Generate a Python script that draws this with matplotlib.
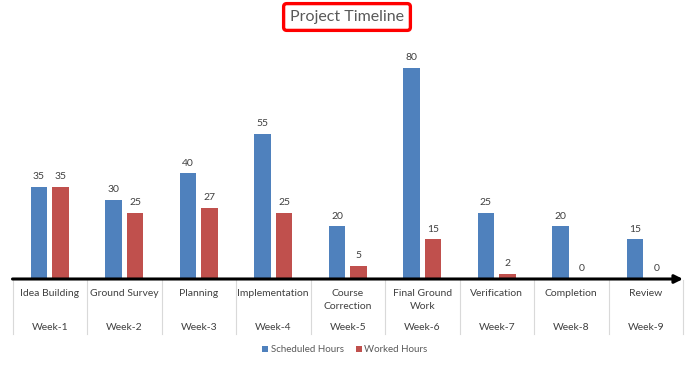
import matplotlib.pyplot as plt
import matplotlib.transforms as mtransforms
import numpy as np

tasks = ["Idea Building", "Ground Survey", "Planning", "Implementation", "Course\nCorrection",
         "Final Ground\nWork", "Verification", "Completion", "Review"]
weeks = ["Week-1", "Week-2", "Week-3", "Week-4", "Week-5", "Week-6", "Week-7", "Week-8", "Week-9"]
scheduled = [35, 30, 40, 55, 20, 80, 25, 20, 15]
worked = [35, 25, 27, 25, 5, 15, 2, 0, 0]

BLUE = "#4F81BD"
RED = "#C0504D"
TXT = "#404040"
plt.rcParams["font.family"] = ["Lato", "DejaVu Sans"]

fig = plt.figure(figsize=(6.96, 3.66), dpi=100)
ax = fig.add_axes([12.5 / 696, 87 / 366, (683 - 12.5) / 696, 239 / 366])

x = np.arange(len(tasks))
w = 0.22
off = 0.145
b1 = ax.bar(x - off, scheduled, w, color=BLUE, label="Scheduled Hours")
b2 = ax.bar(x + off, worked, w, color=RED, label="Worked Hours")
ax.bar_label(b1, padding=4, fontsize=7.5, color=TXT)
ax.bar_label(b2, padding=4, fontsize=7.5, color=TXT)

ax.set_xlim(-0.5, len(tasks) - 0.5)
ax.set_ylim(0, 90.5)
for s in ax.spines.values():
    s.set_visible(False)
ax.set_xticks([])
ax.set_yticks([])

# timeline arrow along the baseline
ax.annotate("", xy=(len(tasks) - 0.5, 0), xytext=(-0.5, 0),
            arrowprops=dict(arrowstyle="-|>", color="black", lw=2.2,
                            mutation_scale=12, shrinkA=0, shrinkB=0),
            annotation_clip=False)

# category axis labels (two levels) and dividers
trans = mtransforms.blended_transform_factory(ax.transData, fig.transFigure)
for i in range(len(tasks) + 1):
    ax.plot([i - 0.5, i - 0.5], [1 - 280 / 366, 1 - 334 / 366], transform=trans,
            color="#D9D9D9", lw=0.8, clip_on=False)
for i, (t, wk) in enumerate(zip(tasks, weeks)):
    ax.text(i, 1 - 288.5 / 366, t, transform=trans, ha="center", va="top",
            fontsize=7.5, color=TXT, linespacing=1.65)
    ax.text(i, 1 - 327 / 366, wk, transform=trans, ha="center", va="center",
            fontsize=7.5, color=TXT)

fig.legend(handles=[b1, b2], loc="center", bbox_to_anchor=(345 / 696, 1 - 350 / 366),
           ncol=2, frameon=False, fontsize=7, handlelength=0.6, handleheight=0.6,
           handletextpad=0.3, columnspacing=1.2, labelcolor="#595959")

fig.text(347 / 696, 1 - 17 / 366, "Project Timeline", ha="center", va="center",
         fontsize=11.5, color="#595959",
         bbox=dict(boxstyle="round,pad=0.4,rounding_size=0.2", fc="white",
                   ec="#FF0000", lw=2.4))

fig.savefig("out.png", dpi=100)
